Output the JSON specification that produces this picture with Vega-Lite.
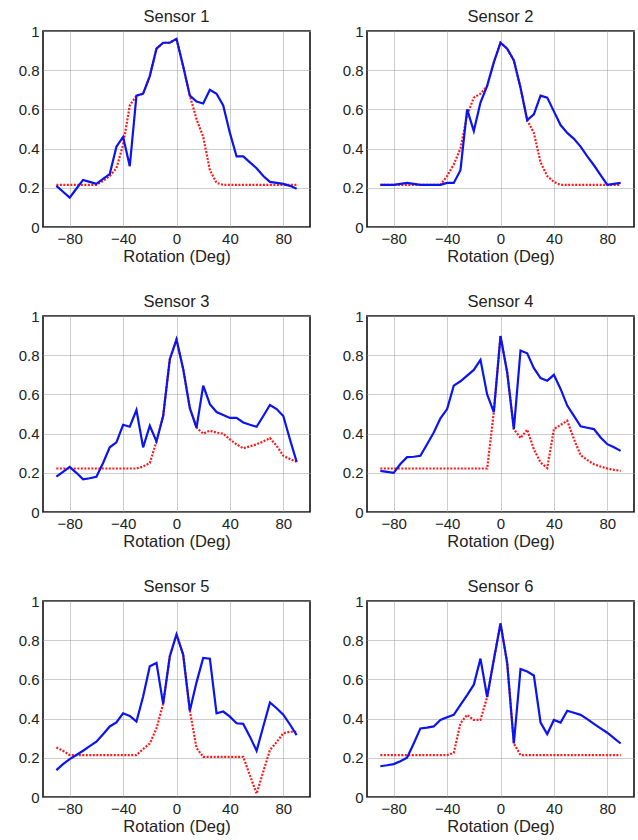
{
  "$schema": "https://vega.github.io/schema/vega-lite/v6.json",
  "padding": {"left": 17, "top": 7, "right": 2, "bottom": 1},
  "background": "white",
  "datasets": {
    "curves": [
      {"sensor":"Sensor 1","deg":-90,"blue":0.21,"red":0.215},{"sensor":"Sensor 1","deg":-85,"blue":0.18,"red":0.215},{"sensor":"Sensor 1","deg":-80,"blue":0.15,"red":0.215},{"sensor":"Sensor 1","deg":-75,"blue":0.195,"red":0.215},{"sensor":"Sensor 1","deg":-70,"blue":0.24,"red":0.215},{"sensor":"Sensor 1","deg":-65,"blue":0.23,"red":0.215},{"sensor":"Sensor 1","deg":-60,"blue":0.22,"red":0.215},{"sensor":"Sensor 1","deg":-55,"blue":0.245,"red":0.235},{"sensor":"Sensor 1","deg":-50,"blue":0.27,"red":0.26},{"sensor":"Sensor 1","deg":-45,"blue":0.41,"red":0.30},{"sensor":"Sensor 1","deg":-40,"blue":0.46,"red":0.42},{"sensor":"Sensor 1","deg":-35,"blue":0.31,"red":0.62},{"sensor":"Sensor 1","deg":-30,"blue":0.67,"red":0.67},{"sensor":"Sensor 1","deg":-25,"blue":0.68,"red":0.68},{"sensor":"Sensor 1","deg":-20,"blue":0.77,"red":0.77},{"sensor":"Sensor 1","deg":-15,"blue":0.91,"red":0.91},{"sensor":"Sensor 1","deg":-10,"blue":0.94,"red":0.94},{"sensor":"Sensor 1","deg":-5,"blue":0.94,"red":0.94},{"sensor":"Sensor 1","deg":0,"blue":0.96,"red":0.96},{"sensor":"Sensor 1","deg":5,"blue":0.82,"red":0.82},{"sensor":"Sensor 1","deg":10,"blue":0.67,"red":0.67},{"sensor":"Sensor 1","deg":15,"blue":0.64,"red":0.55},{"sensor":"Sensor 1","deg":20,"blue":0.63,"red":0.46},{"sensor":"Sensor 1","deg":25,"blue":0.70,"red":0.29},{"sensor":"Sensor 1","deg":30,"blue":0.68,"red":0.225},{"sensor":"Sensor 1","deg":35,"blue":0.62,"red":0.215},{"sensor":"Sensor 1","deg":40,"blue":0.48,"red":0.215},{"sensor":"Sensor 1","deg":45,"blue":0.36,"red":0.215},{"sensor":"Sensor 1","deg":50,"blue":0.36,"red":0.215},{"sensor":"Sensor 1","deg":55,"blue":0.33,"red":0.215},{"sensor":"Sensor 1","deg":60,"blue":0.30,"red":0.215},{"sensor":"Sensor 1","deg":65,"blue":0.26,"red":0.215},{"sensor":"Sensor 1","deg":70,"blue":0.23,"red":0.215},{"sensor":"Sensor 1","deg":75,"blue":0.225,"red":0.215},{"sensor":"Sensor 1","deg":80,"blue":0.22,"red":0.215},{"sensor":"Sensor 1","deg":85,"blue":0.21,"red":0.215},{"sensor":"Sensor 1","deg":90,"blue":0.195,"red":0.215},

      {"sensor":"Sensor 2","deg":-90,"blue":0.215,"red":0.215},{"sensor":"Sensor 2","deg":-85,"blue":0.215,"red":0.215},{"sensor":"Sensor 2","deg":-80,"blue":0.215,"red":0.215},{"sensor":"Sensor 2","deg":-75,"blue":0.22,"red":0.215},{"sensor":"Sensor 2","deg":-70,"blue":0.225,"red":0.215},{"sensor":"Sensor 2","deg":-65,"blue":0.22,"red":0.215},{"sensor":"Sensor 2","deg":-60,"blue":0.215,"red":0.215},{"sensor":"Sensor 2","deg":-55,"blue":0.215,"red":0.215},{"sensor":"Sensor 2","deg":-50,"blue":0.215,"red":0.215},{"sensor":"Sensor 2","deg":-45,"blue":0.215,"red":0.215},{"sensor":"Sensor 2","deg":-40,"blue":0.225,"red":0.26},{"sensor":"Sensor 2","deg":-35,"blue":0.225,"red":0.32},{"sensor":"Sensor 2","deg":-30,"blue":0.29,"red":0.40},{"sensor":"Sensor 2","deg":-25,"blue":0.60,"red":0.57},{"sensor":"Sensor 2","deg":-20,"blue":0.49,"red":0.66},{"sensor":"Sensor 2","deg":-15,"blue":0.635,"red":0.68},{"sensor":"Sensor 2","deg":-10,"blue":0.72,"red":0.72},{"sensor":"Sensor 2","deg":-5,"blue":0.84,"red":0.84},{"sensor":"Sensor 2","deg":0,"blue":0.94,"red":0.94},{"sensor":"Sensor 2","deg":5,"blue":0.91,"red":0.91},{"sensor":"Sensor 2","deg":10,"blue":0.85,"red":0.85},{"sensor":"Sensor 2","deg":15,"blue":0.71,"red":0.71},{"sensor":"Sensor 2","deg":20,"blue":0.545,"red":0.545},{"sensor":"Sensor 2","deg":25,"blue":0.575,"red":0.48},{"sensor":"Sensor 2","deg":30,"blue":0.67,"red":0.33},{"sensor":"Sensor 2","deg":35,"blue":0.66,"red":0.26},{"sensor":"Sensor 2","deg":40,"blue":0.59,"red":0.23},{"sensor":"Sensor 2","deg":45,"blue":0.52,"red":0.215},{"sensor":"Sensor 2","deg":50,"blue":0.48,"red":0.215},{"sensor":"Sensor 2","deg":55,"blue":0.45,"red":0.215},{"sensor":"Sensor 2","deg":60,"blue":0.41,"red":0.215},{"sensor":"Sensor 2","deg":65,"blue":0.36,"red":0.215},{"sensor":"Sensor 2","deg":70,"blue":0.315,"red":0.215},{"sensor":"Sensor 2","deg":75,"blue":0.265,"red":0.215},{"sensor":"Sensor 2","deg":80,"blue":0.215,"red":0.215},{"sensor":"Sensor 2","deg":85,"blue":0.22,"red":0.215},{"sensor":"Sensor 2","deg":90,"blue":0.225,"red":0.215},

      {"sensor":"Sensor 3","deg":-90,"blue":0.18,"red":0.222},{"sensor":"Sensor 3","deg":-85,"blue":0.205,"red":0.222},{"sensor":"Sensor 3","deg":-80,"blue":0.23,"red":0.222},{"sensor":"Sensor 3","deg":-75,"blue":0.20,"red":0.222},{"sensor":"Sensor 3","deg":-70,"blue":0.167,"red":0.222},{"sensor":"Sensor 3","deg":-65,"blue":0.172,"red":0.222},{"sensor":"Sensor 3","deg":-60,"blue":0.18,"red":0.222},{"sensor":"Sensor 3","deg":-55,"blue":0.25,"red":0.222},{"sensor":"Sensor 3","deg":-50,"blue":0.33,"red":0.222},{"sensor":"Sensor 3","deg":-45,"blue":0.355,"red":0.222},{"sensor":"Sensor 3","deg":-40,"blue":0.445,"red":0.222},{"sensor":"Sensor 3","deg":-35,"blue":0.435,"red":0.222},{"sensor":"Sensor 3","deg":-30,"blue":0.52,"red":0.222},{"sensor":"Sensor 3","deg":-25,"blue":0.33,"red":0.232},{"sensor":"Sensor 3","deg":-20,"blue":0.44,"red":0.25},{"sensor":"Sensor 3","deg":-15,"blue":0.36,"red":0.36},{"sensor":"Sensor 3","deg":-10,"blue":0.49,"red":0.49},{"sensor":"Sensor 3","deg":-5,"blue":0.78,"red":0.78},{"sensor":"Sensor 3","deg":0,"blue":0.88,"red":0.88},{"sensor":"Sensor 3","deg":5,"blue":0.73,"red":0.73},{"sensor":"Sensor 3","deg":10,"blue":0.53,"red":0.53},{"sensor":"Sensor 3","deg":15,"blue":0.43,"red":0.43},{"sensor":"Sensor 3","deg":20,"blue":0.645,"red":0.40},{"sensor":"Sensor 3","deg":25,"blue":0.55,"red":0.415},{"sensor":"Sensor 3","deg":30,"blue":0.51,"red":0.405},{"sensor":"Sensor 3","deg":35,"blue":0.495,"red":0.40},{"sensor":"Sensor 3","deg":40,"blue":0.48,"red":0.37},{"sensor":"Sensor 3","deg":45,"blue":0.48,"red":0.345},{"sensor":"Sensor 3","deg":50,"blue":0.457,"red":0.325},{"sensor":"Sensor 3","deg":55,"blue":0.445,"red":0.335},{"sensor":"Sensor 3","deg":60,"blue":0.435,"red":0.345},{"sensor":"Sensor 3","deg":65,"blue":0.49,"red":0.36},{"sensor":"Sensor 3","deg":70,"blue":0.546,"red":0.377},{"sensor":"Sensor 3","deg":75,"blue":0.525,"red":0.338},{"sensor":"Sensor 3","deg":80,"blue":0.49,"red":0.287},{"sensor":"Sensor 3","deg":85,"blue":0.37,"red":0.27},{"sensor":"Sensor 3","deg":90,"blue":0.256,"red":0.256},

      {"sensor":"Sensor 4","deg":-90,"blue":0.21,"red":0.222},{"sensor":"Sensor 4","deg":-85,"blue":0.205,"red":0.222},{"sensor":"Sensor 4","deg":-80,"blue":0.20,"red":0.222},{"sensor":"Sensor 4","deg":-75,"blue":0.245,"red":0.222},{"sensor":"Sensor 4","deg":-70,"blue":0.28,"red":0.222},{"sensor":"Sensor 4","deg":-65,"blue":0.282,"red":0.222},{"sensor":"Sensor 4","deg":-60,"blue":0.287,"red":0.222},{"sensor":"Sensor 4","deg":-55,"blue":0.346,"red":0.222},{"sensor":"Sensor 4","deg":-50,"blue":0.406,"red":0.222},{"sensor":"Sensor 4","deg":-45,"blue":0.478,"red":0.222},{"sensor":"Sensor 4","deg":-40,"blue":0.525,"red":0.222},{"sensor":"Sensor 4","deg":-35,"blue":0.645,"red":0.222},{"sensor":"Sensor 4","deg":-30,"blue":0.667,"red":0.222},{"sensor":"Sensor 4","deg":-25,"blue":0.696,"red":0.222},{"sensor":"Sensor 4","deg":-20,"blue":0.725,"red":0.222},{"sensor":"Sensor 4","deg":-15,"blue":0.776,"red":0.222},{"sensor":"Sensor 4","deg":-10,"blue":0.60,"red":0.222},{"sensor":"Sensor 4","deg":-5,"blue":0.51,"red":0.51},{"sensor":"Sensor 4","deg":0,"blue":0.898,"red":0.898},{"sensor":"Sensor 4","deg":5,"blue":0.713,"red":0.713},{"sensor":"Sensor 4","deg":10,"blue":0.423,"red":0.423},{"sensor":"Sensor 4","deg":15,"blue":0.824,"red":0.377},{"sensor":"Sensor 4","deg":20,"blue":0.81,"red":0.42},{"sensor":"Sensor 4","deg":25,"blue":0.734,"red":0.32},{"sensor":"Sensor 4","deg":30,"blue":0.683,"red":0.253},{"sensor":"Sensor 4","deg":35,"blue":0.67,"red":0.224},{"sensor":"Sensor 4","deg":40,"blue":0.70,"red":0.423},{"sensor":"Sensor 4","deg":45,"blue":0.628,"red":0.444},{"sensor":"Sensor 4","deg":50,"blue":0.543,"red":0.466},{"sensor":"Sensor 4","deg":55,"blue":0.49,"red":0.372},{"sensor":"Sensor 4","deg":60,"blue":0.437,"red":0.29},{"sensor":"Sensor 4","deg":65,"blue":0.43,"red":0.265},{"sensor":"Sensor 4","deg":70,"blue":0.423,"red":0.244},{"sensor":"Sensor 4","deg":75,"blue":0.38,"red":0.232},{"sensor":"Sensor 4","deg":80,"blue":0.346,"red":0.222},{"sensor":"Sensor 4","deg":85,"blue":0.33,"red":0.215},{"sensor":"Sensor 4","deg":90,"blue":0.312,"red":0.21},

      {"sensor":"Sensor 5","deg":-90,"blue":0.137,"red":0.253},{"sensor":"Sensor 5","deg":-85,"blue":0.168,"red":0.236},{"sensor":"Sensor 5","deg":-80,"blue":0.193,"red":0.214},{"sensor":"Sensor 5","deg":-75,"blue":0.214,"red":0.214},{"sensor":"Sensor 5","deg":-70,"blue":0.236,"red":0.214},{"sensor":"Sensor 5","deg":-65,"blue":0.26,"red":0.214},{"sensor":"Sensor 5","deg":-60,"blue":0.282,"red":0.214},{"sensor":"Sensor 5","deg":-55,"blue":0.32,"red":0.214},{"sensor":"Sensor 5","deg":-50,"blue":0.36,"red":0.214},{"sensor":"Sensor 5","deg":-45,"blue":0.38,"red":0.214},{"sensor":"Sensor 5","deg":-40,"blue":0.427,"red":0.214},{"sensor":"Sensor 5","deg":-35,"blue":0.414,"red":0.214},{"sensor":"Sensor 5","deg":-30,"blue":0.385,"red":0.214},{"sensor":"Sensor 5","deg":-25,"blue":0.513,"red":0.245},{"sensor":"Sensor 5","deg":-20,"blue":0.667,"red":0.273},{"sensor":"Sensor 5","deg":-15,"blue":0.684,"red":0.35},{"sensor":"Sensor 5","deg":-10,"blue":0.475,"red":0.475},{"sensor":"Sensor 5","deg":-5,"blue":0.718,"red":0.718},{"sensor":"Sensor 5","deg":0,"blue":0.83,"red":0.83},{"sensor":"Sensor 5","deg":5,"blue":0.726,"red":0.726},{"sensor":"Sensor 5","deg":10,"blue":0.44,"red":0.44},{"sensor":"Sensor 5","deg":15,"blue":0.585,"red":0.25},{"sensor":"Sensor 5","deg":20,"blue":0.71,"red":0.205},{"sensor":"Sensor 5","deg":25,"blue":0.706,"red":0.205},{"sensor":"Sensor 5","deg":30,"blue":0.427,"red":0.205},{"sensor":"Sensor 5","deg":35,"blue":0.436,"red":0.205},{"sensor":"Sensor 5","deg":40,"blue":0.41,"red":0.205},{"sensor":"Sensor 5","deg":45,"blue":0.376,"red":0.205},{"sensor":"Sensor 5","deg":50,"blue":0.373,"red":0.205},{"sensor":"Sensor 5","deg":55,"blue":0.308,"red":0.11},{"sensor":"Sensor 5","deg":60,"blue":0.236,"red":0.017},{"sensor":"Sensor 5","deg":65,"blue":0.36,"red":0.13},{"sensor":"Sensor 5","deg":70,"blue":0.482,"red":0.24},{"sensor":"Sensor 5","deg":75,"blue":0.453,"red":0.28},{"sensor":"Sensor 5","deg":80,"blue":0.42,"red":0.325},{"sensor":"Sensor 5","deg":85,"blue":0.37,"red":0.333},{"sensor":"Sensor 5","deg":90,"blue":0.316,"red":0.333},

      {"sensor":"Sensor 6","deg":-90,"blue":0.157,"red":0.214},{"sensor":"Sensor 6","deg":-85,"blue":0.162,"red":0.214},{"sensor":"Sensor 6","deg":-80,"blue":0.168,"red":0.214},{"sensor":"Sensor 6","deg":-75,"blue":0.183,"red":0.214},{"sensor":"Sensor 6","deg":-70,"blue":0.20,"red":0.214},{"sensor":"Sensor 6","deg":-65,"blue":0.273,"red":0.214},{"sensor":"Sensor 6","deg":-60,"blue":0.35,"red":0.214},{"sensor":"Sensor 6","deg":-55,"blue":0.354,"red":0.214},{"sensor":"Sensor 6","deg":-50,"blue":0.36,"red":0.214},{"sensor":"Sensor 6","deg":-45,"blue":0.393,"red":0.214},{"sensor":"Sensor 6","deg":-40,"blue":0.407,"red":0.214},{"sensor":"Sensor 6","deg":-35,"blue":0.419,"red":0.225},{"sensor":"Sensor 6","deg":-30,"blue":0.47,"red":0.376},{"sensor":"Sensor 6","deg":-25,"blue":0.52,"red":0.419},{"sensor":"Sensor 6","deg":-20,"blue":0.573,"red":0.393},{"sensor":"Sensor 6","deg":-15,"blue":0.706,"red":0.393},{"sensor":"Sensor 6","deg":-10,"blue":0.51,"red":0.51},{"sensor":"Sensor 6","deg":-5,"blue":0.70,"red":0.70},{"sensor":"Sensor 6","deg":0,"blue":0.885,"red":0.885},{"sensor":"Sensor 6","deg":5,"blue":0.684,"red":0.684},{"sensor":"Sensor 6","deg":10,"blue":0.273,"red":0.273},{"sensor":"Sensor 6","deg":15,"blue":0.653,"red":0.214},{"sensor":"Sensor 6","deg":20,"blue":0.64,"red":0.214},{"sensor":"Sensor 6","deg":25,"blue":0.62,"red":0.214},{"sensor":"Sensor 6","deg":30,"blue":0.38,"red":0.214},{"sensor":"Sensor 6","deg":35,"blue":0.321,"red":0.214},{"sensor":"Sensor 6","deg":40,"blue":0.393,"red":0.214},{"sensor":"Sensor 6","deg":45,"blue":0.38,"red":0.214},{"sensor":"Sensor 6","deg":50,"blue":0.44,"red":0.214},{"sensor":"Sensor 6","deg":55,"blue":0.43,"red":0.214},{"sensor":"Sensor 6","deg":60,"blue":0.419,"red":0.214},{"sensor":"Sensor 6","deg":65,"blue":0.397,"red":0.214},{"sensor":"Sensor 6","deg":70,"blue":0.373,"red":0.214},{"sensor":"Sensor 6","deg":75,"blue":0.35,"red":0.214},{"sensor":"Sensor 6","deg":80,"blue":0.328,"red":0.214},{"sensor":"Sensor 6","deg":85,"blue":0.30,"red":0.214},{"sensor":"Sensor 6","deg":90,"blue":0.273,"red":0.214}
    ]
  },
  "data": {"name": "curves"},
  "facet": {
    "field": "sensor",
    "type": "nominal",
    "header": {"title": null, "labelFont": "Liberation Sans", "labelFontSize": 16.5, "labelColor": "#222222", "labelPadding": -1}
  },
  "columns": 2,
  "spacing": {"column": 30, "row": 26},
  "resolve": {"axis": {"x": "independent", "y": "independent"}},
  "spec": {
    "width": 267,
    "height": 196,
    "layer": [
      {
        "mark": {"type": "line", "color": "#ff1a1a", "strokeWidth": 2.2, "strokeDash": [2, 1.5]},
        "encoding": {
          "x": {"field": "deg", "type": "quantitative", "scale": {"domain": [-100, 100], "nice": false}, "axis": {"values": [-80, -40, 0, 40, 80], "title": "Rotation (Deg)", "labelOverlap": false}},
          "y": {"field": "red", "type": "quantitative", "scale": {"domain": [0, 1], "nice": false}, "axis": {"values": [0, 0.2, 0.4, 0.6, 0.8, 1], "tickCount": 6, "format": "~g", "title": null, "labelOverlap": false}}
        }
      },
      {
        "mark": {"type": "line", "color": "#0a14f0", "strokeWidth": 2.2},
        "encoding": {
          "x": {"field": "deg", "type": "quantitative", "scale": {"domain": [-100, 100], "nice": false}, "axis": {"values": [-80, -40, 0, 40, 80], "title": "Rotation (Deg)", "labelOverlap": false}},
          "y": {"field": "blue", "type": "quantitative", "scale": {"domain": [0, 1], "nice": false}, "axis": {"values": [0, 0.2, 0.4, 0.6, 0.8, 1], "tickCount": 6, "format": "~g", "title": null, "labelOverlap": false}}
        }
      }
    ]
  },
  "config": {
    "font": "Liberation Sans",
    "view": {"stroke": "#111111", "strokeWidth": 1.6},
    "axis": {
      "domain": false,
      "ticks": false,
      "grid": true,
      "gridColor": "#9a9a9a",
      "gridDash": [1, 1],
      "gridWidth": 1,
      "labelOverlap": false,
      "labelFlush": false,
      "labelFont": "Liberation Sans",
      "labelFontSize": 15,
      "labelColor": "#222222",
      "labelPadding": 4,
      "titleFont": "Liberation Sans",
      "titleFontSize": 16.5,
      "titleFontWeight": "normal",
      "titleColor": "#222222",
      "titlePadding": 2
    }
  }
}
